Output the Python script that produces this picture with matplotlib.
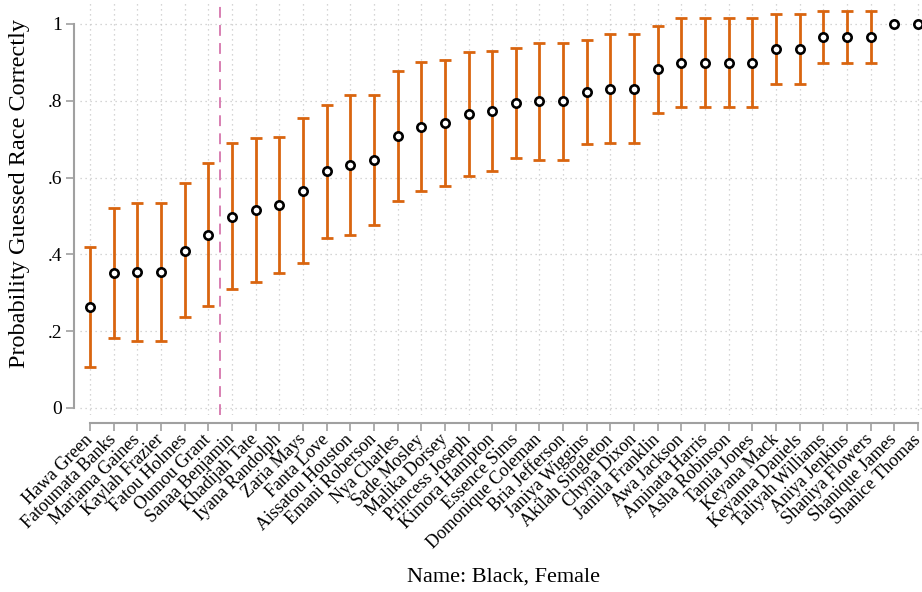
import matplotlib
matplotlib.use("Agg")
import matplotlib.pyplot as plt
import numpy as np

plt.rcParams['font.family'] = ['Liberation Serif', 'DejaVu Serif']

# data
names = ["Hawa Green", "Fatoumata Banks", "Mariama Gaines", "Kaylah Frazier", "Fatou Holmes",
         "Oumou Grant", "Sanaa Benjamin", "Khadijah Tate", "Iyana Randolph", "Zaria Mays",
         "Fanta Love", "Aissatou Houston", "Emani Roberson", "Nya Charles", "Sade Mosley",
         "Malika Dorsey", "Princess Joseph", "Kimora Hampton", "Essence Sims",
         "Domonique Coleman", "Bria Jefferson", "Janiya Wiggins", "Akilah Singleton",
         "Chyna Dixon", "Jamila Franklin", "Awa Jackson", "Aminata Harris", "Asha Robinson",
         "Tamia Jones", "Keyana Mack", "Keyanna Daniels", "Taliyah Williams", "Aniya Jenkins",
         "Shaniya Flowers", "Shanique James", "Shanice Thomas"]
prob = [0.264, 0.352, 0.354, 0.354, 0.410, 0.450, 0.498, 0.516, 0.529, 0.566,
        0.616, 0.633, 0.646, 0.709, 0.733, 0.741, 0.766, 0.773, 0.793, 0.799,
        0.799, 0.823, 0.832, 0.832, 0.882, 0.899, 0.899, 0.899, 0.899, 0.935,
        0.935, 0.966, 0.966, 0.966, 1.0, 1.0]
upper = [0.420, 0.522, 0.533, 0.533, 0.586, 0.637, 0.689, 0.702, 0.707, 0.755,
         0.790, 0.816, 0.816, 0.878, 0.901, 0.905, 0.927, 0.930, 0.937, 0.951,
         0.951, 0.958, 0.975, 0.975, 0.996, 1.016, 1.016, 1.016, 1.016, 1.026,
         1.026, 1.034, 1.034, 1.034, 1.0, 1.0]
lower = [0.108, 0.183, 0.175, 0.175, 0.237, 0.266, 0.309, 0.328, 0.352, 0.378,
         0.444, 0.450, 0.477, 0.539, 0.564, 0.578, 0.605, 0.617, 0.650, 0.647,
         0.647, 0.688, 0.691, 0.691, 0.767, 0.785, 0.785, 0.785, 0.785, 0.844,
         0.844, 0.898, 0.898, 0.898, 1.0, 1.0]
split_at = 5.5
yticks = [0, 0.2, 0.4, 0.6, 0.8, 1.0]
ytick_labels = ["0", ".2", ".4", ".6", ".8", "1"]

ORANGE = '#d9650f'
GREY = '#a0a0a0'

fig = plt.figure(figsize=(9.22, 5.92), dpi=100)
ax = fig.add_axes([80 / 922, 1 - 415 / 592, 842 / 922, 415 / 592])

x = np.arange(len(names))
prob = np.array(prob)
yerr = np.vstack([prob - np.array(lower), np.array(upper) - prob])
has_bar = yerr.sum(axis=0) > 0

ax.errorbar(x[has_bar], prob[has_bar], yerr=yerr[:, has_bar], fmt='none',
            ecolor=ORANGE, elinewidth=2, capsize=4.5, capthick=2, zorder=2)
ax.plot(x, prob, 'o', mfc='white', mec='black', ms=6, mew=1.9, zorder=3)

ax.axvline(split_at, color='#d675ad', linestyle=(0, (6, 4)), linewidth=1.3, zorder=1)

# axes limits / styling (Stata look)
px_per = (918 - 90) / 35
ax.set_xlim(-(90 - 80) / px_per, 35 + (922 - 918) / px_per)
ax.set_ylim(-7 / 384, 408 / 384)

for s in ['top', 'right']:
    ax.spines[s].set_visible(False)
ax.spines['left'].set_position(('outward', 4))
ax.spines['bottom'].set_position(('outward', 6))
ax.spines['left'].set_bounds(0, 1)
ax.spines['bottom'].set_bounds(0, 35)
for s in ['left', 'bottom']:
    ax.spines[s].set_color(GREY)
    ax.spines[s].set_linewidth(1.5)
ax.tick_params(axis='both', colors=GREY, length=6, width=1.2, labelcolor='black')
ax.tick_params(axis='y', pad=3)
ax.tick_params(axis='x', pad=4)

# tick labels after tick_params (pad change rebuilds ticks)
ax.set_yticks(yticks)
ax.set_yticklabels(ytick_labels, fontsize=14)
ax.set_xticks(x)
ax.set_xticklabels(names, rotation=45, ha='right', va='center',
                   rotation_mode='anchor', fontsize=13)

ax.grid(True, linestyle=(0, (1, 3)), color='#c8c8c8', linewidth=0.9)
ax.set_axisbelow(True)

fig.text(20 / 922, 1 - 193 / 592, "Probability Guessed Race Correctly", rotation=90,
         ha='center', va='center', fontsize=17.5)
fig.text(503 / 922, 1 - 577 / 592, "Name: Black, Female", ha='center', va='center', fontsize=16)

fig.savefig("out.png", dpi=100)
